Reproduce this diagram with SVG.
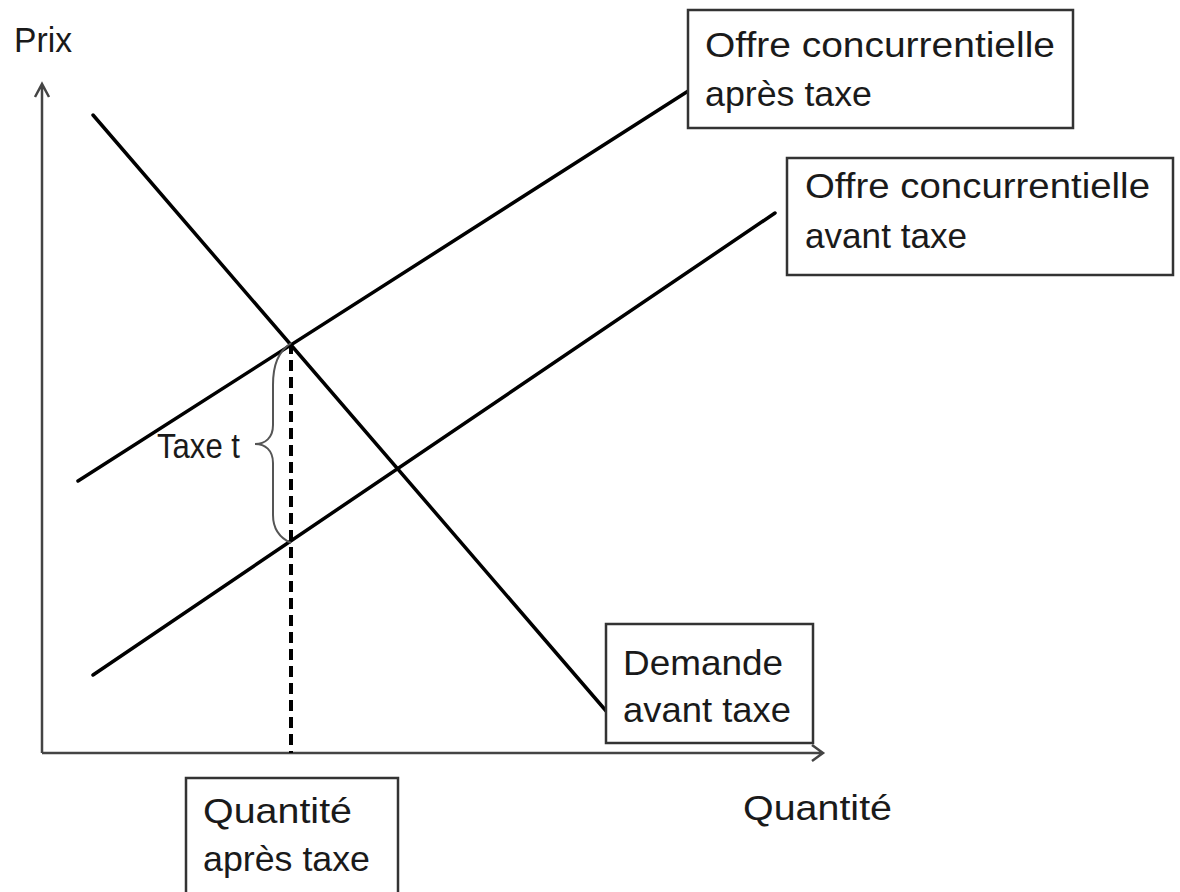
<svg xmlns="http://www.w3.org/2000/svg" width="1180" height="892" viewBox="0 0 1180 892">
<style>
.t{font-family:"Liberation Sans",Arial,sans-serif;font-size:35px;fill:#1a1a1a}
.box{fill:#fff;stroke:#333;stroke-width:2.5}
.ln{stroke:#000;stroke-width:3.5;fill:none;stroke-linecap:round}
.ax{stroke:#444;stroke-width:2.5;fill:none}
</style>
<rect width="1180" height="892" fill="#fff"/>
<g id="connectors">
<path class="ax" d="M42,753 V84 M35,97 L42,84 L49,97"/>
<path class="ax" d="M42,753 H823 M812,745 L823,753 L812,761"/>
<line class="ln" x1="93" y1="115" x2="607" y2="712"/>
<line class="ln" x1="78" y1="481" x2="707" y2="79"/>
<line class="ln" x1="93" y1="675" x2="775" y2="213"/>
<line x1="291" y1="343" x2="291" y2="753" stroke="#000" stroke-width="4" stroke-dasharray="11 6"/>
<path d="M291,343 C278,352 273,365 273,385 V425 C273,438 265,444 255,444 C265,444 273,450 273,463 V515 C273,530 280,538 291,543" fill="none" stroke="#555" stroke-width="2"/>
</g>
<g id="prix"><text class="t" x="14" y="52" textLength="58" lengthAdjust="spacingAndGlyphs">Prix</text></g>
<g id="quantite"><text class="t" x="743" y="820" textLength="149" lengthAdjust="spacingAndGlyphs">Quantité</text></g>
<g id="taxe"><text class="t" x="157" y="458" textLength="83" lengthAdjust="spacingAndGlyphs">Taxe t</text></g>
<g id="offre-apres">
<rect class="box" x="688" y="10" width="385" height="118"/>
<text class="t" x="705" y="57" textLength="350" lengthAdjust="spacingAndGlyphs">Offre concurrentielle</text>
<text class="t" x="705" y="106" textLength="167" lengthAdjust="spacingAndGlyphs">après taxe</text>
</g>
<g id="offre-avant">
<rect class="box" x="787" y="158" width="386" height="117"/>
<text class="t" x="805" y="198" textLength="345" lengthAdjust="spacingAndGlyphs">Offre concurrentielle</text>
<text class="t" x="805" y="248" textLength="162" lengthAdjust="spacingAndGlyphs">avant taxe</text>
</g>
<g id="demande">
<rect class="box" x="606" y="624" width="207" height="119"/>
<text class="t" x="623" y="675" textLength="160" lengthAdjust="spacingAndGlyphs">Demande</text>
<text class="t" x="623" y="722" textLength="168" lengthAdjust="spacingAndGlyphs">avant taxe</text>
</g>
<g id="quantite-apres">
<rect class="box" x="186" y="778" width="212" height="130"/>
<text class="t" x="203" y="823" textLength="149" lengthAdjust="spacingAndGlyphs">Quantité</text>
<text class="t" x="203" y="871" textLength="167" lengthAdjust="spacingAndGlyphs">après taxe</text>
</g>
</svg>
